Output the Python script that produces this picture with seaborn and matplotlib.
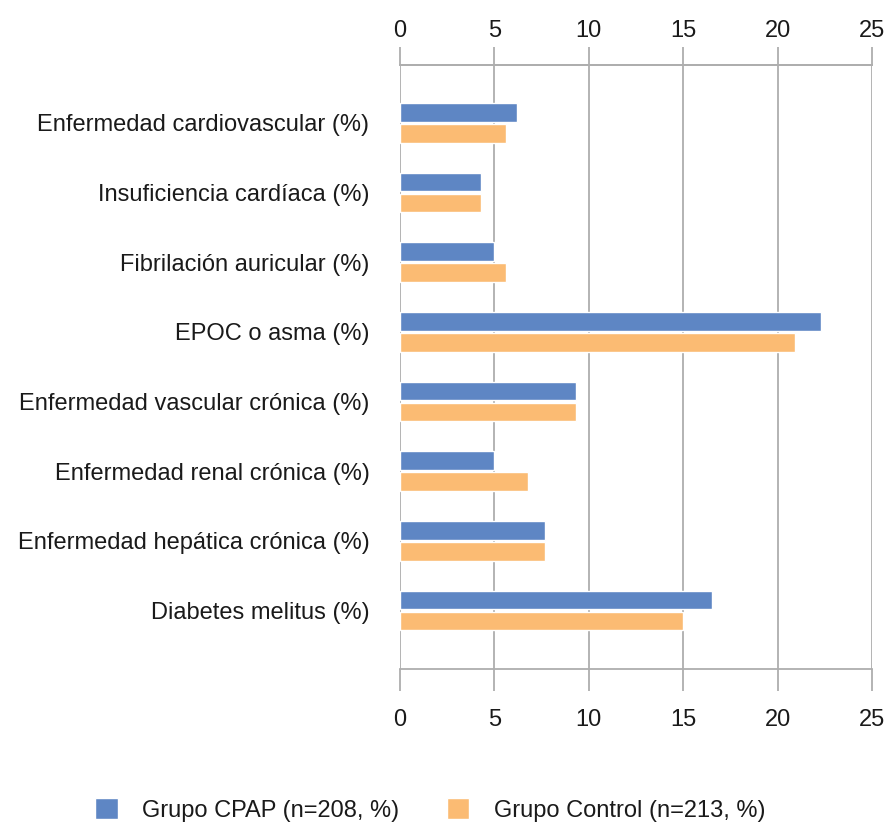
import matplotlib
matplotlib.use("Agg")
import matplotlib.pyplot as plt
from matplotlib.patches import Patch
import pandas as pd
import seaborn as sns

categorias = [
    "Enfermedad cardiovascular (%)",
    "Insuficiencia cardíaca (%)",
    "Fibrilación auricular (%)",
    "EPOC o asma (%)",
    "Enfermedad vascular crónica (%)",
    "Enfermedad renal crónica (%)",
    "Enfermedad hepática crónica (%)",
    "Diabetes melitus (%)",
]
grupo_cpap = [6.2, 4.3, 5.0, 22.3, 9.3, 5.0, 7.7, 16.5]
grupo_control = [5.6, 4.3, 5.6, 20.9, 9.3, 6.8, 7.7, 15.0]
series = ["Grupo CPAP (n=208, %)", "Grupo Control (n=213, %)"]
ticks = [0, 5, 10, 15, 20, 25]

BLUE = "#5E86C4"
ORANGE = "#FBBB73"
GRID = "#AEAEAE"
TEXT = "#1a1a1a"
FS = 17

df = pd.DataFrame({
    "cat": categorias * 2,
    "valor": grupo_cpap + grupo_control,
    "serie": [series[0]] * len(categorias) + [series[1]] * len(categorias),
})

sns.set_theme(style="white")
plt.rcParams["font.family"] = ["Liberation Sans", "DejaVu Sans"]

fig = plt.figure(figsize=(8.89, 8.24), dpi=100)
ax = fig.add_axes([400 / 889, 1 - 669 / 824, 472 / 889, 604 / 824])

sns.barplot(data=df, x="valor", y="cat", hue="serie", order=categorias,
            hue_order=series, palette=[BLUE, ORANGE], width=0.6, gap=0.1,
            saturation=1, orient="h", ax=ax, zorder=3)
ax.get_legend().remove()

ax.set_xlim(0, 25)
ax.set_ylim(len(categorias) - 1 + 0.84, -0.83)
ax.set_xticks(ticks)
ax.set_xlabel("")
ax.set_ylabel("")
ax.grid(axis="x", color=GRID, linewidth=1.3, zorder=0)
ax.grid(axis="y", visible=False)

for s in ["left", "right"]:
    ax.spines[s].set_visible(False)
for s in ["top", "bottom"]:
    ax.spines[s].set_visible(True)
    ax.spines[s].set_color(GRID)
    ax.spines[s].set_linewidth(1.3)

ax.tick_params(axis="x", bottom=True, labelbottom=True, direction="out",
               length=16, width=1.3, color=GRID, labelsize=FS,
               labelcolor=TEXT, pad=13)
ax.tick_params(axis="y", left=False, labelsize=FS, labelcolor=TEXT, pad=16)

top = ax.secondary_xaxis("top")
top.set_xticks(ticks)
top.spines["top"].set_color(GRID)
top.spines["top"].set_linewidth(1.3)
top.tick_params(axis="x", direction="out", length=12.7, width=1.3, color=GRID,
                labelsize=FS, labelcolor=TEXT, pad=3.5)

handles = [Patch(facecolor=BLUE), Patch(facecolor=ORANGE)]
fig.legend(handles, series, loc="center", bbox_to_anchor=(0.484, 1 - 810 / 824),
           ncol=2, frameon=False, fontsize=FS, handlelength=0.95,
           handleheight=0.95, handletextpad=1.05, columnspacing=2.0,
           labelcolor=TEXT, borderpad=0)

fig.savefig("out.png", dpi=100)
